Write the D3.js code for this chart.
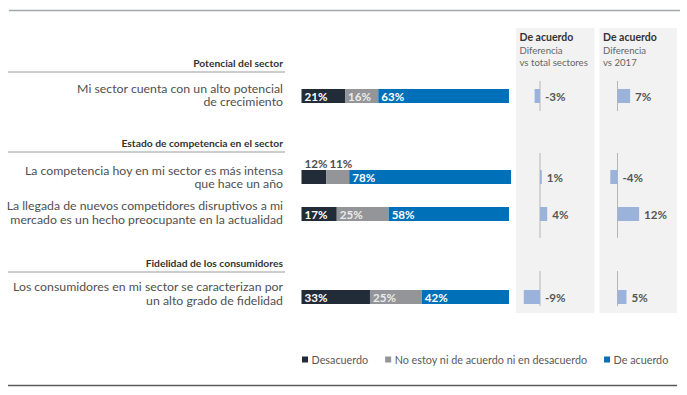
<!DOCTYPE html>
<html>
<head>
<meta charset="utf-8">
<script src="https://cdn.jsdelivr.net/npm/d3@7"></script>
<style>
  body { margin: 0; background: #fff; }
  text { font-family: Lato, "Open Sans", sans-serif; }
</style>
</head>
<body>
<div class="canvas"></div>
<script>
// data
const groups = ['Potencial del sector', 'Estado de competencia en el sector', 'Fidelidad de los consumidores'];
const statements = [
  ['Mi sector cuenta con un alto potencial', 'de crecimiento'],
  ['La competencia hoy en mi sector es más intensa', 'que hace un año'],
  ['La llegada de nuevos competidores disruptivos a mi', 'mercado es un hecho preocupante en la actualidad'],
  ['Los consumidores en mi sector se caracterizan por', 'un alto grado de fidelidad']
];
const statementGroup = [0, 1, 1, 2];
const desacuerdo = [21, 12, 17, 33];
const neutral = [16, 11, 25, 25];
const deAcuerdo = [63, 78, 58, 42];
const diffSectores = [-3, 1, 4, -9];
const diff2017 = [7, -4, 12, 5];
const seriesNames = ['Desacuerdo', 'No estoy ni de acuerdo ni en desacuerdo', 'De acuerdo'];
const panelTitles = [
  ['De acuerdo', 'Diferencia', 'vs total sectores'],
  ['De acuerdo', 'Diferencia', 'vs 2017']
];

// layout
const width = 687, height = 395;
const colors = ['#222c38', '#939598', '#0071b9'];
const diffColor = '#9bb3db';
const barH = 14;

const rows = statements.map((d, i) => i);
const y = d3.scaleOrdinal().domain(rows).range([96, 177, 214, 297]);
const labelY = d3.scaleOrdinal().domain(rows).range([94.5, 176.5, 212, 293]);
const headerY = d3.scaleOrdinal().domain(groups).range([63, 143, 263]);
const axisSpan = d3.scaleOrdinal().domain(groups).range([[81, 111], [153, 238], [271, 306]]);
const x = d3.scaleLinear().domain([0, 100]).range([301.5, 509]);

const svg = d3.select('.canvas')
  .append('svg')
  .attr('width', width)
  .attr('height', height);

// frame lines
svg.append('line')
  .attr('x1', 9).attr('x2', 680).attr('y1', 10.5).attr('y2', 10.5)
  .attr('stroke', '#a3a6aa').attr('stroke-width', 1.6);
svg.append('line')
  .attr('x1', 8).attr('x2', 677).attr('y1', 385.5).attr('y2', 385.5)
  .attr('stroke', '#5a5a5a').attr('stroke-width', 1.5);

// section headers
const heads = svg.selectAll('.head').data(groups).enter().append('g').attr('class', 'head');
heads.append('text')
  .attr('x', 283).attr('y', d => headerY(d))
  .attr('text-anchor', 'end').attr('dominant-baseline', 'central')
  .attr('font-size', 10.3).attr('font-weight', 'bold').attr('fill', '#333')
  .text(d => d);
heads.append('line')
  .attr('x1', 8).attr('x2', 285)
  .attr('y1', d => headerY(d) + 9).attr('y2', d => headerY(d) + 9)
  .attr('stroke', '#9a9a9a').attr('stroke-width', 1);

// statement labels
svg.selectAll('.stmt').data(rows).enter().append('text')
  .attr('class', 'stmt')
  .attr('text-anchor', 'end')
  .attr('font-size', 12.3).attr('fill', '#505050')
  .each(function(i) {
    const t = d3.select(this);
    statements[i].forEach((line, k) => {
      t.append('tspan')
        .attr('x', 283)
        .attr('y', labelY(i) - 6.5 + k * 13.5)
        .attr('dominant-baseline', 'central')
        .text(line);
    });
  });

// stacked bars
const table = rows.map(i => ({ row: i, d: desacuerdo[i], n: neutral[i], a: deAcuerdo[i] }));
const stacked = d3.stack().keys(['d', 'n', 'a'])(table);

const layers = svg.selectAll('.layer').data(stacked).enter().append('g')
  .attr('class', 'layer')
  .attr('fill', (d, i) => colors[i]);

layers.selectAll('rect').data(d => d).enter().append('rect')
  .attr('x', d => x(d[0]))
  .attr('y', d => y(d.data.row) - barH / 2)
  .attr('width', d => x(d[1]) - x(d[0]))
  .attr('height', barH);

layers.each(function(layer, li) {
  d3.select(this).selectAll('text').data(layer).enter().append('text')
    .attr('x', d => x(d[0]) + 3)
    .attr('y', d => (d[1] - d[0]) < 15 ? y(d.data.row) - barH / 2 - 7 : y(d.data.row) + 0.5)
    .attr('dominant-baseline', 'central')
    .attr('font-size', 11.6).attr('font-weight', 'bold')
    .attr('fill', d => (d[1] - d[0]) < 15 ? '#4d4d4d' : (li === 1 ? '#ececec' : '#fff'))
    .text(d => (d[1] - d[0]) + '%');
});

// difference panels
const panelX = [[516, 594.5], [599.5, 677]];
const panelAxis = [540, 617.5];
const panelData = [diffSectores, diff2017];

panelData.forEach((vals, p) => {
  const g = svg.append('g');
  const xs = d3.scaleLinear().domain([-10, 10]).range([panelAxis[p] - 18, panelAxis[p] + 18]);

  g.append('rect')
    .attr('x', panelX[p][0]).attr('y', 28)
    .attr('width', panelX[p][1] - panelX[p][0]).attr('height', 285)
    .attr('fill', '#f2f2f2');

  panelTitles[p].forEach((t, k) => {
    g.append('text')
      .attr('x', panelX[p][0] + 3.5).attr('y', [37, 50, 62][k])
      .attr('dominant-baseline', 'central')
      .attr('font-size', k === 0 ? 10.5 : 9.6)
      .attr('font-weight', k === 0 ? 'bold' : 'normal')
      .attr('fill', k === 0 ? '#333' : '#666')
      .text(t);
  });

  // one axis line per section
  groups.forEach(grp => {
    const span = axisSpan(grp);
    g.append('line')
      .attr('x1', xs(0)).attr('x2', xs(0))
      .attr('y1', span[0]).attr('y2', span[1])
      .attr('stroke', '#b5b5b5').attr('stroke-width', 1);
  });

  g.selectAll('.diff').data(rows).enter().append('rect')
    .attr('class', 'diff')
    .attr('x', i => xs(Math.min(0, vals[i])))
    .attr('y', i => y(i) - barH / 2)
    .attr('width', i => Math.abs(xs(vals[i]) - xs(0)))
    .attr('height', barH)
    .attr('fill', diffColor);

  g.selectAll('.difflabel').data(rows).enter().append('text')
    .attr('class', 'difflabel')
    .attr('x', i => xs(Math.max(0, vals[i])) + 5)
    .attr('y', i => y(i) + 0.5)
    .attr('dominant-baseline', 'central')
    .attr('font-size', 11.6).attr('font-weight', 'bold').attr('fill', '#555')
    .text(i => vals[i] + '%');
});

// legend
const legend = svg.append('g');
let lx = 302;
seriesNames.forEach((name, i) => {
  legend.append('rect')
    .attr('x', lx).attr('y', 356.5)
    .attr('width', 6).attr('height', 6)
    .attr('fill', colors[i]);
  const t = legend.append('text')
    .attr('x', lx + 9.5).attr('y', 359.5)
    .attr('dominant-baseline', 'central')
    .attr('font-size', 10.8).attr('fill', '#595959')
    .text(name);
  lx += 9.5 + t.node().getComputedTextLength() + 17;
});
</script>
</body>
</html>
